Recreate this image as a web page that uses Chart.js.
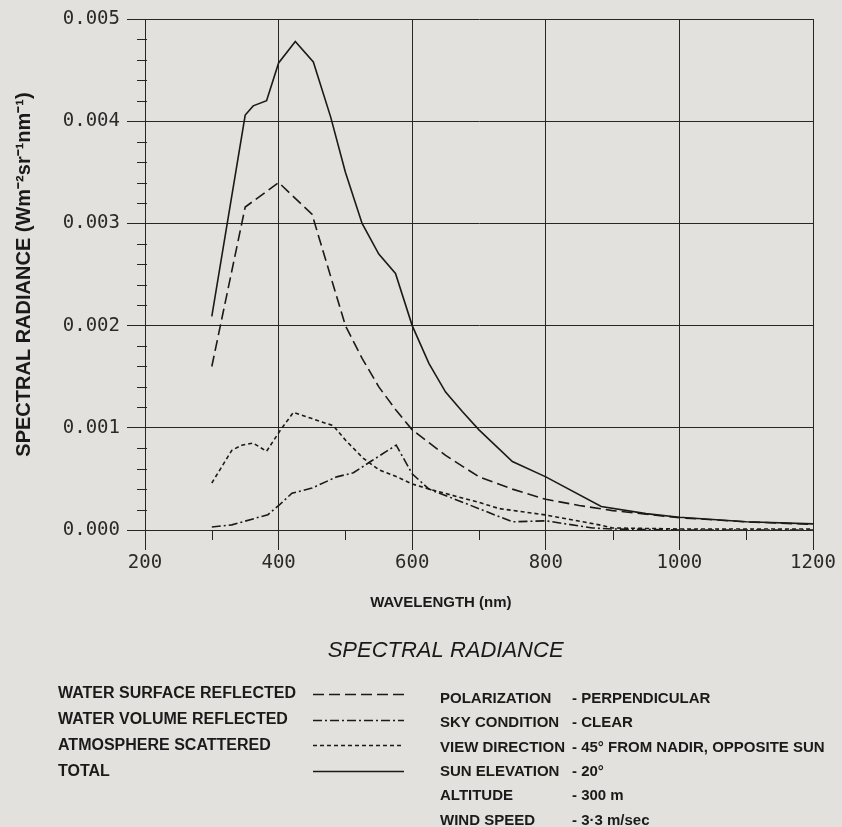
<!DOCTYPE html>
<html>
<head>
<meta charset="utf-8">
<script src="https://cdn.jsdelivr.net/npm/chart.js@4/dist/chart.umd.min.js"></script>
<style>
  html, body { margin: 0; padding: 0; background: #e2e1dd; }
  canvas { display: block; }
</style>
</head>
<body>
<canvas id="c" width="842" height="827"></canvas>
<script>
// Spectral radiance components, W m^-2 sr^-1 nm^-1, against wavelength in nm
const surfaceNm  = [300, 350, 400, 450, 500, 525, 550, 575, 600, 650, 700, 750, 800, 850, 900, 1000, 1100, 1200];
const surfaceVal = [0.00160, 0.00316, 0.00340, 0.00309, 0.00200, 0.00168, 0.00140, 0.00118, 0.00098, 0.00073, 0.00052, 0.00040, 0.00030, 0.00024, 0.00019, 0.00012, 0.00008, 0.000055];

const volumeNm  = [300, 330, 384, 402, 420, 450, 487, 512, 540, 576, 600, 625, 680, 750, 800, 870, 900, 1000, 1100, 1200];
const volumeVal = [0.00003, 0.00005, 0.00015, 0.00025, 0.00036, 0.00041, 0.00052, 0.00056, 0.00068, 0.00083, 0.00055, 0.00040, 0.00026, 0.00008, 0.00009, 0.00002, 0.00001, 0.0, 0.0, 0.0];

const atmosNm  = [300, 330, 345, 362, 382, 402, 422, 450, 482, 500, 527, 550, 577, 600, 631, 700, 730, 800, 880, 900, 1000, 1100, 1200];
const atmosVal = [0.00046, 0.00078, 0.00083, 0.00085, 0.00077, 0.00097, 0.00115, 0.00109, 0.00102, 0.00088, 0.00070, 0.00059, 0.00052, 0.00045, 0.00039, 0.00027, 0.00021, 0.000147, 0.00005, 0.00002, 0.00001, 0.00001, 0.00001];

const totalNm  = [300, 350, 362, 382, 400, 425, 452, 478, 500, 525, 550, 575, 600, 625, 650, 675, 700, 750, 800, 883, 950, 1000, 1100, 1200];
const totalVal = [0.00209, 0.00406, 0.00415, 0.00420, 0.00457, 0.00478, 0.00458, 0.00404, 0.00350, 0.00300, 0.00270, 0.00251, 0.00200, 0.00163, 0.00135, 0.00116, 0.00098, 0.00067, 0.00052, 0.00023, 0.00016, 0.000125, 0.00008, 0.00006];

const seriesLabels = ['WATER SURFACE REFLECTED', 'WATER VOLUME REFLECTED', 'ATMOSPHERE SCATTERED', 'TOTAL'];

const xTicks = [200, 400, 600, 800, 1000, 1200];
const yTicks = [0.000, 0.001, 0.002, 0.003, 0.004, 0.005];

const notes = [
  ['POLARIZATION', '- PERPENDICULAR'],
  ['SKY CONDITION', '- CLEAR'],
  ['VIEW DIRECTION', '- 45° FROM NADIR, OPPOSITE SUN'],
  ['SUN ELEVATION', '- 20°'],
  ['ALTITUDE', '- 300 m'],
  ['WIND SPEED', '- 3·3 m/sec']
];

const INK = '#1a1a1a';
const GRID = '#262626';
const SANS = '"Liberation Sans", Arial, sans-serif';
const MONO = '"DejaVu Sans Mono", monospace';

const pairs = (xs, ys) => xs.map((x, i) => ({ x, y: ys[i] }));

function lineSet(label, xs, ys, dash) {
  return {
    label,
    data: pairs(xs, ys),
    borderColor: INK,
    borderWidth: 1.6,
    borderDash: dash,
    pointRadius: 0,
    tension: 0,
    fill: false
  };
}

// Short minor tick marks between the labelled ticks
const minorTicks = {
  id: 'minorTicks',
  beforeDatasetsDraw(chart) {
    const { ctx, scales: { x, y } } = chart;
    ctx.save();
    ctx.strokeStyle = GRID;
    ctx.lineWidth = 1;
    ctx.beginPath();
    for (let i = 0; i < xTicks.length - 1; i++) {
      const v = (xTicks[i] + xTicks[i + 1]) / 2;
      const px = Math.round(x.getPixelForValue(v)) + 0.5;
      ctx.moveTo(px, y.bottom);
      ctx.lineTo(px, y.bottom + 10);
    }
    for (let i = 0; i < yTicks.length - 1; i++) {
      for (let k = 1; k < 5; k++) {
        const v = yTicks[i] + (yTicks[i + 1] - yTicks[i]) * k / 5;
        const py = Math.round(y.getPixelForValue(v)) + 0.5;
        ctx.moveTo(x.left - 8, py);
        ctx.lineTo(x.left + 2, py);
      }
    }
    ctx.stroke();
    ctx.restore();
  }
};

// Axis caption, title, line key and observation notes under the plot
const captions = {
  id: 'captions',
  afterDraw(chart) {
    const { ctx, chartArea: a } = chart;
    ctx.save();
    ctx.fillStyle = INK;
    ctx.textBaseline = 'middle';

    ctx.textAlign = 'center';
    ctx.font = 'bold 15px ' + SANS;
    ctx.fillText('WAVELENGTH (nm)', a.left + (a.right - a.left) * 0.443, a.bottom + 73);

    ctx.font = 'italic 22px ' + SANS;
    ctx.fillText('SPECTRAL RADIANCE', a.left + (a.right - a.left) * 0.45, a.bottom + 121);

    ctx.textAlign = 'left';
    ctx.font = 'bold 16px ' + SANS;
    chart.data.datasets.forEach((ds, i) => {
      const yy = a.bottom + 164 + i * 25.7;
      ctx.fillText(ds.label, 58, yy);
      ctx.save();
      ctx.strokeStyle = ds.borderColor;
      ctx.lineWidth = ds.borderWidth;
      ctx.setLineDash(ds.borderDash || []);
      ctx.beginPath();
      ctx.moveTo(313, Math.round(yy) + 0.5);
      ctx.lineTo(404, Math.round(yy) + 0.5);
      ctx.stroke();
      ctx.restore();
    });

    ctx.font = 'bold 15px ' + SANS;
    notes.forEach((n, i) => {
      const yy = a.bottom + 169 + i * 24.3;
      ctx.fillText(n[0], 440, yy);
      const w = ctx.measureText(n[0]).width;
      ctx.fillText(n[1], Math.max(440 + w + 5, 572), yy);
    });
    ctx.restore();
  }
};

new Chart(document.getElementById('c'), {
  type: 'line',
  data: {
    datasets: [
      lineSet(seriesLabels[0], surfaceNm, surfaceVal, [11, 5]),
      lineSet(seriesLabels[1], volumeNm, volumeVal, [9, 3, 2, 3]),
      lineSet(seriesLabels[2], atmosNm, atmosVal, [4, 3]),
      lineSet(seriesLabels[3], totalNm, totalVal, [])
    ]
  },
  options: {
    responsive: false,
    animation: false,
    layout: { padding: { left: 0, right: 29, top: 19, bottom: 247 } },
    plugins: { legend: { display: false }, tooltip: { enabled: false }, title: { display: false } },
    scales: {
      x: {
        type: 'linear',
        min: xTicks[0],
        max: xTicks[xTicks.length - 1],
        afterBuildTicks: s => { s.ticks = xTicks.map(v => ({ value: v })); },
        afterFit: s => { s.height = 50; },
        ticks: {
          font: { family: MONO, size: 19 },
          color: '#2a2a2a',
          padding: 2,
          maxRotation: 0,
          autoSkip: false,
          callback: v => String(v)
        },
        grid: { color: GRID, lineWidth: 1, tickLength: 20, tickColor: GRID },
        border: { color: GRID, width: 1 }
      },
      y: {
        type: 'linear',
        min: yTicks[0],
        max: yTicks[yTicks.length - 1],
        afterBuildTicks: s => { s.ticks = yTicks.map(v => ({ value: v })); },
        afterFit: s => { s.width = 145; },
        ticks: {
          font: { family: MONO, size: 19 },
          color: '#2a2a2a',
          padding: 7,
          autoSkip: false,
          callback: v => v.toFixed(3)
        },
        grid: { color: GRID, lineWidth: 1, tickLength: 18, tickColor: GRID },
        border: { color: GRID, width: 1 },
        title: {
          display: true,
          text: 'SPECTRAL RADIANCE (Wm⁻²sr⁻¹nm⁻¹)',
          font: { family: SANS, weight: 'bold', size: 20 },
          color: INK,
          padding: { top: 12, bottom: 0 }
        }
      }
    }
  },
  plugins: [minorTicks, captions]
});
</script>
</body>
</html>
